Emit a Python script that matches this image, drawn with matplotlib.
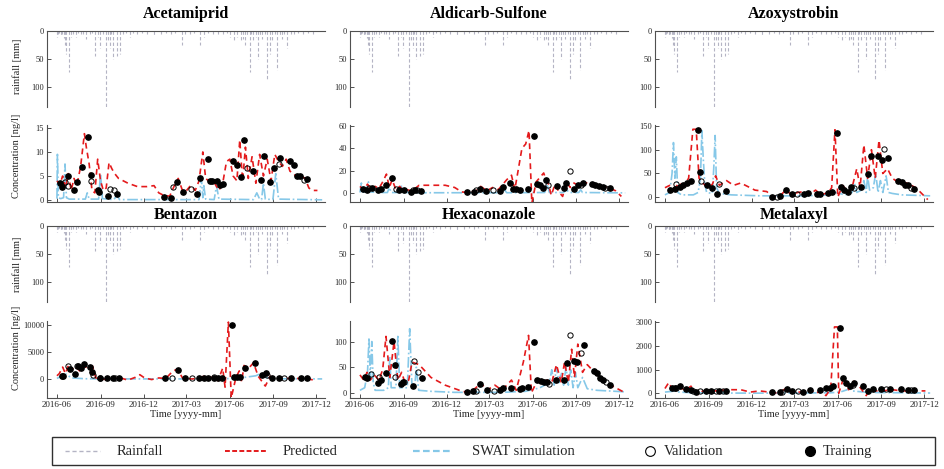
import numpy as np
import matplotlib
matplotlib.use("Agg")
import matplotlib.pyplot as plt
import matplotlib.dates as mdates
from matplotlib.lines import Line2D
from matplotlib.patches import Rectangle

plt.rcParams["font.family"] = "serif"
plt.rcParams["font.serif"] = ["Liberation Serif", "DejaVu Serif"]

BASE = np.datetime64("2016-06-01")
W, H = 945, 469

# ---- data: day offsets from 2016-06-01 ----
rain_days = [0, 3, 5, 8, 10, 14, 17, 20, 26, 30, 33, 40, 45, 50, 55, 62, 70, 75, 81, 86,
             91, 98, 104, 108, 112, 115, 119, 126, 133, 140, 145, 154, 160, 170, 180,
             190, 204, 220, 230, 240, 250, 264, 270, 280, 290, 303, 310, 320, 330, 340,
             350, 360, 365, 373, 380, 388, 393, 398, 402, 407, 410, 415, 420, 424, 428,
             432, 440, 444, 449, 455, 460, 465, 470, 475, 480, 486, 495, 500, 510, 520,
             530, 540]
rain_mm = [10, 5, 4, 8, 5, 12, 25, 40, 72, 10, 6, 10, 4, 5, 6, 15, 5, 4, 45, 10,
           30, 5, 140, 20, 30, 6, 50, 45, 40, 5, 4, 10, 3, 5, 4,
           5, 8, 5, 3, 5, 4, 25, 5, 5, 4, 25, 10, 4, 5, 6,
           5, 4, 10, 20, 10, 20, 15, 25, 8, 72, 6, 20, 10, 50, 8,
           15, 6, 85, 40, 20, 6, 70, 8, 15, 5, 30, 5, 5, 4, 5,
           3, 5]

compounds = ["Acetamiprid", "Aldicarb-Sulfone", "Azoxystrobin",
             "Bentazon", "Hexaconazole", "Metalaxyl"]

ace_swat = [(0, 0.3), (1, 9.5), (3, 0.5), (8, 0.3), (14, 0.5), (17, 7.5), (20, 0.5),
            (26, 0.2), (60, 0.2), (64, 1.5), (68, 0.2), (88, 0.2), (92, 5.5), (96, 0.3),
            (120, 0.1), (127, 1.0), (132, 0.1), (300, 0.1), (305, 4.5), (308, 0.5),
            (310, 3.0), (314, 0.2), (332, 0.1), (337, 3.0), (342, 0.2), (415, 0.1),
            (422, 1.5), (428, 0.2), (432, 0.1), (436, 3.5), (440, 0.2), (456, 0.1),
            (462, 5.5), (468, 0.2), (560, 0.05)]
ace_pred = [(0, 4.0), (6, 3.2), (12, 5.0), (18, 2.5), (24, 5.5), (30, 2.0), (36, 4.5),
            (42, 3.0), (50, 7.0), (58, 13.8), (62, 11.0), (68, 7.5), (74, 2.0), (80, 1.5),
            (86, 8.5), (92, 4.0), (98, 2.0), (104, 2.5), (110, 7.8), (116, 6.5),
            (122, 5.5), (130, 4.5), (150, 3.5), (170, 2.8), (190, 2.8), (205, 3.0),
            (215, 1.5), (225, 1.0), (238, 0.8), (248, 3.0), (256, 4.5), (265, 2.0),
            (272, 1.8), (282, 3.0), (292, 2.0), (300, 4.0), (308, 10.0), (314, 4.5),
            (320, 4.0), (330, 4.0), (342, 2.0), (350, 3.5), (358, 8.0), (365, 8.5),
            (372, 5.0), (380, 4.0), (386, 12.5), (392, 4.0), (398, 11.0), (404, 4.5),
            (412, 9.0), (420, 3.5), (428, 9.5), (436, 5.0), (444, 8.5), (452, 4.0),
            (460, 9.5), (468, 8.0), (476, 7.0), (484, 8.5), (492, 6.0), (500, 5.5),
            (508, 4.5), (516, 5.0), (524, 4.5), (532, 2.5), (540, 2.0), (550, 2.0)]
ace_train = [(6, 3.6), (11, 2.8), (24, 4.9), (36, 2.1), (43, 3.8), (53, 6.8), (66, 13.1),
             (71, 5.2), (86, 2.0), (89, 1.6), (108, 0.8), (127, 1.3), (225, 0.7),
             (240, 0.5), (253, 3.8), (267, 1.7), (296, 1.3), (303, 4.6), (318, 8.6),
             (323, 3.9), (327, 3.9), (338, 3.9), (344, 3.1), (351, 3.3), (372, 8.2),
             (380, 7.2), (388, 4.7), (395, 12.4), (415, 6.1), (430, 4.1), (437, 9.1),
             (450, 3.7), (458, 6.6), (472, 8.8), (493, 8.2), (500, 7.3), (507, 5.1),
             (514, 5.1), (527, 4.4)]
ace_val = [(18, 3.8), (23, 3.0), (71, 4.0), (112, 2.2), (120, 2.0), (244, 2.7),
           (284, 2.4), (401, 6.6), (468, 7.5), (521, 4.2)]

ald_swat = [(0, 0.5), (3, 9), (6, 1), (12, 1), (18, 10), (22, 1), (40, 0.5), (58, 0.5),
            (62, 5), (66, 0.5), (84, 0.5), (88, 7), (92, 0.5), (130, 0.3), (300, 0.3),
            (305, 3), (310, 0.3), (390, 0.5), (395, 8), (400, 0.5), (430, 0.5), (436, 3),
            (442, 0.5), (462, 0.5), (466, 3), (470, 0.5), (560, 0.2)]
ald_pred = [(0, 6), (8, 3), (16, 8), (24, 3), (32, 6), (40, 4), (48, 10), (56, 17),
            (62, 5), (68, 12), (76, 3), (84, 6), (92, 2), (100, 3), (108, 2), (116, 4),
            (125, 7), (150, 7), (180, 7), (200, 5), (215, 1), (230, 0.5), (245, 2),
            (255, 6), (268, 2), (280, 5), (292, 3), (302, 8), (310, 12), (320, 16),
            (327, 3), (342, 40), (350, 44), (357, 56), (363, -9), (372, 10), (388, 18),
            (392, 13), (398, 8), (404, -2), (412, 8), (420, 1), (428, -3), (436, 10),
            (444, 5), (452, 9), (460, 7), (470, 10), (480, 9), (495, 8), (510, 6),
            (525, 5), (540, 2), (552, -3)]
ald_train = [(7, 3.8), (14, 3.0), (26, 4.7), (38, 3.0), (45, 3.8), (55, 7.4), (68, 13.3),
             (83, 2.4), (92, 2.4), (108, 0.9), (117, 2.4), (129, 1.8), (225, 0.9),
             (241, 1.2), (253, 3.8), (267, 2.1), (295, 1.5), (303, 5.3), (316, 8.9),
             (323, 3.8), (330, 3.3), (337, 3.0), (354, 3.3), (367, 51), (374, 8.3),
             (381, 7.4), (386, 4.7), (393, 12.1), (416, 5.9), (430, 4.7), (435, 9.2),
             (451, 3.5), (461, 7.4), (472, 9.2), (490, 8.0), (497, 7.1), (504, 5.9),
             (514, 5.3), (528, 4.7)]
ald_val = [(19, 4.7), (76, 3.8), (113, 3.0), (120, 2.4), (244, 2.4), (282, 2.4),
           (398, 6.8), (443, 19.5), (466, 6.8), (517, 4.7)]

azo_swat = [(0, 5), (10, 10), (15, 50), (18, 115), (21, 40), (24, 85), (27, 10), (35, 5),
            (60, 5), (70, 10), (75, 40), (78, 140), (81, 80), (84, 30), (88, 10),
            (100, 8), (103, 60), (106, 130), (109, 20), (115, 8), (140, 5), (200, 3),
            (300, 3), (350, 5), (360, 10), (380, 5), (395, 10), (400, 30), (405, 10),
            (415, 15), (420, 35), (425, 10), (428, 45), (432, 15), (440, 20), (445, 50),
            (450, 10), (455, 35), (460, 10), (467, 45), (472, 10), (480, 8), (500, 5),
            (560, 3)]
azo_pred = [(0, 20), (10, 25), (20, 18), (30, 30), (40, 25), (50, 40), (59, 143),
            (66, 143), (72, 40), (80, 30), (90, 20), (100, 27), (107, 45), (115, 25),
            (130, 35), (145, 25), (160, 30), (190, 15), (215, 12), (228, 0), (245, 5),
            (255, 15), (268, 5), (280, 10), (295, 12), (305, 5), (318, 15), (330, 5),
            (345, 10), (352, 20), (359, 142), (365, 0), (375, 25), (388, 10),
            (395, 20), (405, 60), (412, 20), (420, 110), (428, 40), (436, 100),
            (444, 40), (452, 120), (460, 50), (470, 60), (480, 40), (495, 30),
            (510, 30), (530, 20), (545, 5), (555, -5)]
azo_train = [(10, 16), (21, 18), (31, 22), (38, 26), (46, 31), (56, 35), (70, 141),
             (75, 53), (89, 26), (100, 20), (109, 6), (129, 13), (226, 1.5), (242, 3),
             (255, 16), (269, 7), (293, 7), (303, 9), (321, 7), (328, 6), (345, 9),
             (352, 10), (364, 135), (372, 22), (379, 15), (386, 11), (393, 22),
             (414, 22), (428, 48), (435, 86), (450, 86), (459, 78), (472, 83),
             (493, 35), (500, 32), (507, 26), (514, 26), (526, 18)]
azo_val = [(24, 27), (77, 34), (115, 28), (237, 1.5), (279, 7), (400, 20), (463, 101),
           (519, 20)]

ben_swat = [(0, 100), (10, 600), (20, 900), (30, 200), (60, 50), (100, 20), (300, 20),
            (380, 100), (420, 600), (430, 1000), (440, 300), (460, 50), (560, 20)]
ben_pred = [(0, 600), (5, 1000), (12, 2200), (18, 1000), (24, 2500), (30, 1500),
            (38, 2400), (48, 1500), (55, 2500), (65, 2000), (75, 2400), (82, 200),
            (90, 0), (110, -100), (130, 300), (150, -200), (165, 300), (175, 800),
            (185, 200), (200, -100), (215, 200), (230, 100), (245, 1500), (255, 1800),
            (265, 200), (285, 0), (300, 200), (310, 500), (320, -100), (330, 500),
            (340, -300), (350, 2000), (355, -1500), (362, 10500), (368, -3500),
            (378, 300), (385, 1500), (390, -500), (395, 2500), (405, 2000),
            (415, 3000), (425, 500), (440, -1300), (450, 500), (465, 100), (490, 100),
            (520, 100), (545, -200)]
ben_train = [(10, 500), (13, 630), (27, 1900), (38, 950), (45, 2400), (50, 2000),
             (57, 2700), (70, 2200), (75, 1270), (90, 130), (105, 130), (118, 130),
             (130, 130), (229, 130), (255, 1650), (271, 130), (301, 130), (311, 130),
             (318, 130), (331, 130), (341, 130), (348, 130), (369, 10000), (373, 300),
             (380, 300), (387, 450), (397, 2000), (419, 3000), (433, 820), (441, 1140),
             (455, 130), (469, 130), (494, 130), (515, 130), (529, 130)]
ben_val = [(24, 2400), (43, 2400), (77, 820), (91, 130), (123, 130), (243, 130),
           (285, 130), (331, 300), (444, 800), (480, 130)]

hex_swat = [(0, 5), (10, 10), (16, 40), (19, 105), (22, 30), (25, 100), (28, 20), (32, 5),
            (50, 5), (60, 10), (63, 70), (66, 10), (76, 10), (80, 110), (84, 10),
            (100, 10), (105, 125), (110, 10), (116, 15), (119, 50), (124, 5), (150, 3),
            (200, 1), (300, 1), (350, 3), (380, 10), (400, 20), (405, 45), (410, 15),
            (415, 50), (420, 20), (425, 40), (430, 15), (435, 50), (440, 15), (445, 45),
            (450, 10), (455, 40), (460, 10), (470, 30), (480, 8), (500, 5), (560, 2)]
hex_pred = [(0, 35), (8, 25), (15, 40), (22, 25), (30, 35), (40, 25), (48, 45),
            (55, 110), (63, 30), (72, 100), (80, 25), (88, 40), (95, 20), (103, 25),
            (110, 60), (125, 55), (150, 30), (180, 15), (210, 5), (230, 0), (245, 10),
            (255, 20), (268, 5), (285, 15), (300, 5), (320, 25), (330, 5), (345, 60),
            (356, 112), (362, 0), (375, 25), (385, 20), (395, 25), (405, 20), (415, 55),
            (425, 20), (432, 60), (440, 20), (447, 85), (453, 30), (460, 95), (470, 40),
            (480, 55), (495, 40), (510, 25), (530, 15), (550, 5), (560, 0)]
hex_train = [(10, 30), (14, 28), (38, 19), (45, 26), (55, 39), (68, 101), (75, 55),
             (87, 18), (91, 21), (111, 13), (130, 28), (225, 2), (239, 3), (254, 17),
             (268, 5), (296, 5), (303, 10), (319, 10), (338, 8), (343, 10), (354, 12),
             (368, 99), (374, 26), (382, 23), (389, 21), (396, 21), (415, 26), (431, 25),
             (437, 58), (451, 63), (459, 60), (473, 94), (494, 42), (500, 39), (507, 28),
             (514, 26), (529, 15)]
hex_val = [(24, 37), (41, 31), (75, 31), (94, 21), (114, 63), (122, 41), (244, 3),
           (283, 4), (399, 18), (443, 113), (466, 77), (519, 21)]

met_swat = [(0, 50), (15, 80), (20, 100), (30, 50), (60, 20), (100, 10), (200, 5),
            (350, 20), (370, 50), (385, 150), (390, 200), (395, 100), (420, 50),
            (450, 30), (560, 10)]
met_pred = [(0, 200), (8, 450), (15, 200), (25, 250), (35, 200), (45, 150), (55, 300),
            (62, 50), (70, -50), (80, 100), (95, 100), (110, 100), (130, 150),
            (160, 150), (180, 50), (200, 100), (220, 50), (240, 0), (255, 200),
            (270, 50), (290, 50), (305, 150), (318, 0), (330, 100), (340, -100),
            (350, 200), (358, 2800), (364, 2800), (367, 0), (378, 700), (388, 150),
            (398, 500), (410, 300), (425, -100), (432, 150), (440, 100), (460, 100),
            (480, 150), (500, 100), (530, 100), (550, 100)]
met_train = [(14, 230), (21, 240), (31, 290), (45, 160), (56, 130), (66, 70), (87, 110),
             (97, 110), (115, 110), (129, 110), (226, 70), (243, 70), (257, 200),
             (268, 90), (292, 70), (306, 130), (327, 130), (341, 230), (348, 240),
             (355, 290), (369, 2750), (376, 640), (383, 430), (390, 290), (400, 430),
             (418, 290), (428, 110), (440, 160), (456, 170), (475, 160), (499, 190),
             (513, 150), (525, 130)]
met_val = [(24, 230), (59, 110), (75, 80), (107, 110), (123, 110), (247, 40), (280, 80),
           (397, 330), (467, 160), (519, 130)]

swat = [ace_swat, ald_swat, azo_swat, ben_swat, hex_swat, met_swat]
pred = [ace_pred, ald_pred, azo_pred, ben_pred, hex_pred, met_pred]
train = [ace_train, ald_train, azo_train, ben_train, hex_train, met_train]
valid = [ace_val, ald_val, azo_val, ben_val, hex_val, met_val]
conc_ylim = [(-0.4, 15.6), (-8, 61), (-10, 152), (-3500, 10700), (-10, 140), (-200, 3050)]
conc_ticks = [[0, 5, 10, 15], [0, 20, 40, 60], [0, 50, 100, 150],
              [0, 5000, 10000], [0, 50, 100], [0, 1000, 2000, 3000]]
legend_labels = ["Rainfall", "Predicted", "SWAT simulation", "Validation", "Training"]

RAIN_C = "#b4b4c4"
PRED_C = "#e41a1c"
SWAT_C = "#86c8e8"
AX_C = "#505050"
TXT_C = "#262626"


def to_dates(days):
    return BASE + np.asarray(days).astype("timedelta64[D]")


def unzip(pairs):
    d, v = zip(*pairs)
    return to_dates(d), np.array(v, dtype=float)


def style(ax, spines):
    for s in ("top", "bottom", "left", "right"):
        ax.spines[s].set_visible(s in spines)
        ax.spines[s].set_color(AX_C)
        ax.spines[s].set_linewidth(0.8)
    ax.tick_params(direction="in", length=3, width=0.7, colors=AX_C,
                   labelcolor=TXT_C, labelsize=6.0, pad=2)


fig = plt.figure(figsize=(W / 100, H / 100), dpi=100)
xlim = (np.datetime64("2016-05-11"), np.datetime64("2017-12-19"))
col_left = [47, 350, 655]
col_w = 278
# rain top, rain bottom, conc top, conc bottom, title y, rain label y, conc label y
rows = [(31, 107, 125, 202, 14, 66, 156), (226, 302, 321, 398, 215, 264, 348)]

rain_x = to_dates(rain_days)
for i, name in enumerate(compounds):
    r, c = divmod(i, 3)
    rt, rb, ct, cb, ty, rly, cly = rows[r]
    x0 = col_left[c] / W
    wf = col_w / W
    axr = fig.add_axes([x0, 1 - rb / H, wf, (rb - rt) / H])
    axc = fig.add_axes([x0, 1 - cb / H, wf, (cb - ct) / H])

    axr.vlines(rain_x, 0, rain_mm, colors=RAIN_C, linestyles=(0, (3, 2)), lw=0.8)
    axr.set_ylim(135, 0)
    axr.set_yticks([0, 50, 100])
    axr.set_xlim(*xlim)
    axr.set_xticks([])
    style(axr, ("top", "left"))

    d, v = unzip(swat[i])
    axc.plot(d, v, color=SWAT_C, lw=1.2, ls="-.")
    d, v = unzip(pred[i])
    axc.plot(d, v, color=PRED_C, lw=1.2, ls=(0, (3.5, 2.5)))
    d, v = unzip(valid[i])
    axc.plot(d, v, ls="none", marker="o", ms=3.8, mfc="none", mec="k", mew=0.7)
    d, v = unzip(train[i])
    axc.plot(d, v, ls="none", marker="o", ms=3.8, mfc="k", mec="k")
    axc.set_xlim(*xlim)
    axc.set_ylim(*conc_ylim[i])
    axc.set_yticks(conc_ticks[i])
    axc.xaxis.set_major_locator(mdates.MonthLocator(bymonth=[3, 6, 9, 12]))
    axc.xaxis.set_major_formatter(mdates.DateFormatter("%Y-%m"))
    style(axc, ("bottom", "left"))
    if r == 0:
        axc.tick_params(labelbottom=False)
    else:
        axc.tick_params(labelsize=6.5)
        axc.tick_params(axis="y", labelsize=6.0)
        axc.set_xlabel("Time [yyyy-mm]", fontsize=7.5, labelpad=1, color=TXT_C)

    fig.text((col_left[c] + col_w / 2) / W, 1 - ty / H, name, ha="center", va="center",
             fontsize=11.5, fontweight="bold")
    if c == 0:
        fig.text(17 / W, 1 - rly / H, "rainfall [mm]", rotation=90,
                 ha="center", va="center", fontsize=7.5, color=TXT_C)
        fig.text(17 / W, 1 - cly / H, "Concentration [ng/l]", rotation=90,
                 ha="center", va="center", fontsize=7.5, color=TXT_C)

# legend box drawn in figure pixels
fig.patches.append(Rectangle((52 / W, 1 - 465 / H), 883 / W, 28 / H,
                             transform=fig.transFigure, fill=False,
                             ec="#303030", lw=1.0))
ly = 1 - 451 / H
leg_handles = [
    dict(x=(65, 100), color=RAIN_C, lw=1.0, ls=(0, (3, 2))),
    dict(x=(225, 268), color=PRED_C, lw=1.4, ls=(0, (2.5, 1.2))),
    dict(x=(413, 452), color=SWAT_C, lw=1.6, ls=(0, (3, 1.5))),
]
for h in leg_handles:
    fig.lines.append(Line2D([h["x"][0] / W, h["x"][1] / W], [ly, ly], color=h["color"],
                            lw=h["lw"], ls=h["ls"], transform=fig.transFigure))
fig.lines.append(Line2D([650 / W], [ly], ls="none", marker="o", ms=7, mfc="none",
                        mec="k", mew=0.8, transform=fig.transFigure))
fig.lines.append(Line2D([810 / W], [ly], ls="none", marker="o", ms=7, mfc="k",
                        mec="k", transform=fig.transFigure))
for tx, lab in zip([117, 283, 472, 664, 823], legend_labels):
    fig.text(tx / W, ly, lab, ha="left", va="center", fontsize=10.5, color=TXT_C)

fig.savefig("out.png", dpi=100)
